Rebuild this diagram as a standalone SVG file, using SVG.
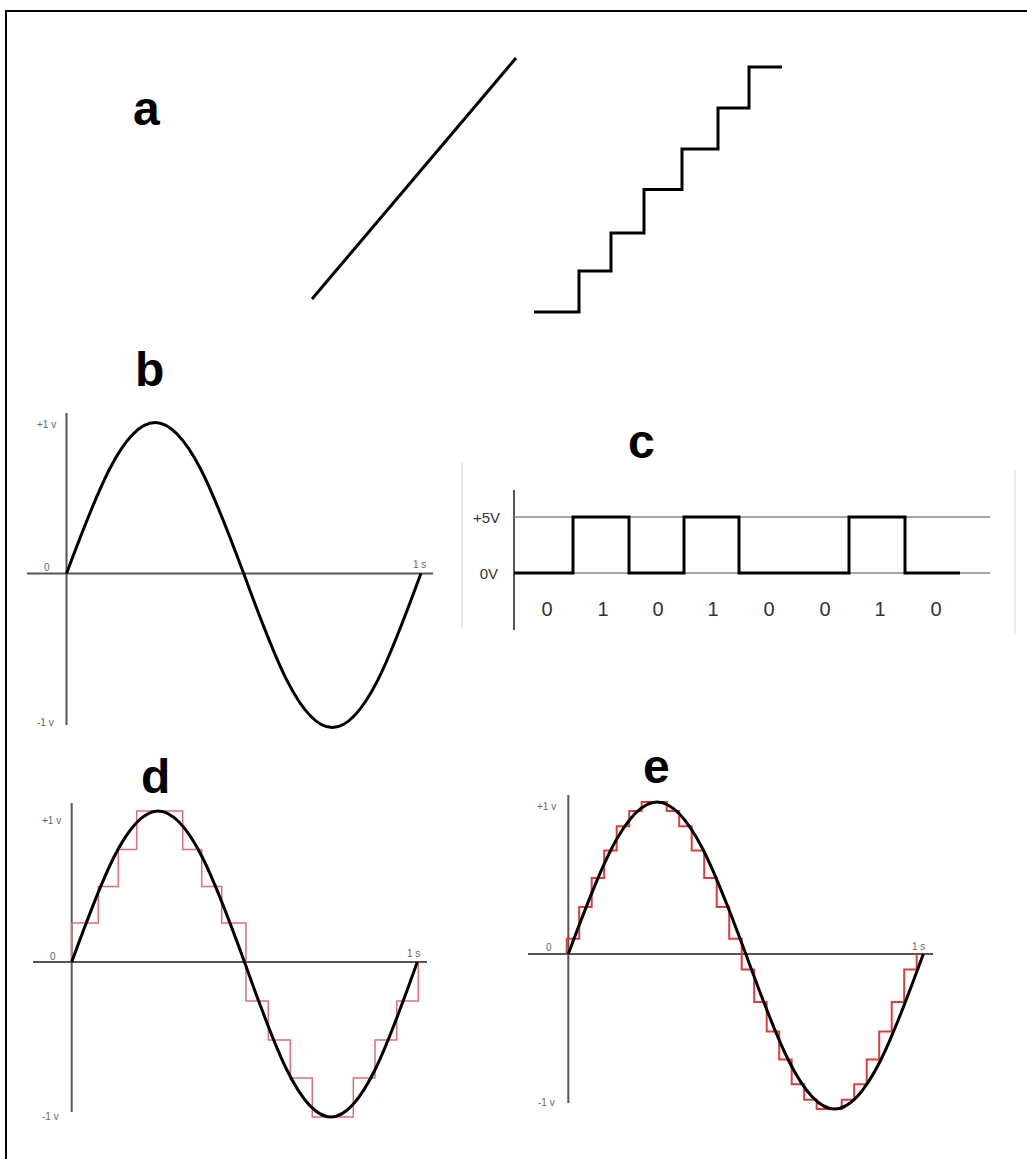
<svg xmlns="http://www.w3.org/2000/svg" width="1027" height="1159" viewBox="0 0 1027 1159">
<style>
.lbl{font-family:"Liberation Sans",Arial,sans-serif;font-weight:bold;font-size:48px;fill:#000}
.ax{stroke:#555;stroke-width:2;fill:none}
.grid{stroke:#888;stroke-width:1.5;fill:none}
.faint{stroke:#e4e4e4;stroke-width:1.5;fill:none}
.sig{stroke:#000;stroke-width:3;fill:none;stroke-linejoin:miter}
.sine{stroke:#000;stroke-width:3;fill:none}
.small{font-family:"Liberation Sans",Arial,sans-serif;font-size:10px;fill:#666}
.mid{font-family:"Liberation Sans",Arial,sans-serif;font-size:15px;fill:#333}
.dig{font-family:"Liberation Sans",Arial,sans-serif;font-size:20px;fill:#333;text-anchor:middle}
.redd{stroke:#e07070;stroke-width:1.5;fill:none}
.rede{stroke:#e03c3c;stroke-width:2;fill:none}
</style>
<rect x="0" y="0" width="1027" height="1159" fill="#fff"/>
<g id="frame">
<path d="M6,1159 V11 H1027" stroke="#000" stroke-width="2" fill="none"/>
</g>
<g id="panel-a">
<text class="lbl" x="133" y="125">a</text>
<line x1="312" y1="299" x2="516" y2="58" class="sig"/>
<path class="sig" stroke-width="4" d="M534,312 H579 V271 H611 V233 H644 V189.5 H682 V149 H718 V108 H749 V67 H782"/>
</g>
<g id="panel-b">
<text class="lbl" x="135" y="386">b</text>
<line class="ax" x1="66.5" y1="413" x2="66.5" y2="725"/>
<line class="ax" x1="27" y1="573.5" x2="433" y2="573.5"/>
<text class="small" x="37" y="428">+1 v</text>
<text class="small" x="44" y="571">0</text>
<text class="small" x="413" y="568">1 s</text>
<text class="small" x="37" y="726">-1 v</text>
<path class="sine" d="M66.5,573.5 C95.4,496.1 123,422.5 155.1,422.5 C187.2,422.5 214.8,496.1 243.7,573.5 C272.6,652.4 300.2,727.5 332.3,727.5 C364.4,727.5 392,652.4 420.9,573.5"/>
</g>
<g id="panel-c">
<text class="lbl" x="628" y="458">c</text>
<line class="faint" x1="462" y1="462" x2="462" y2="628"/>
<line class="faint" x1="1015" y1="470" x2="1015" y2="635"/>
<line class="ax" x1="514" y1="490" x2="514" y2="630"/>
<line class="grid" x1="514" y1="517" x2="990" y2="517"/>
<line class="grid" x1="514" y1="573" x2="990" y2="573"/>
<text class="mid" x="500" y="523" text-anchor="end">+5V</text>
<text class="mid" x="498" y="579" text-anchor="end">0V</text>
<path class="sig" d="M514,573 H573 V517 H629 V573 H684 V517 H739 V573 H849 V517 H905 V573 H960"/>
<text class="dig" x="547" y="616">0</text>
<text class="dig" x="603" y="616">1</text>
<text class="dig" x="658" y="616">0</text>
<text class="dig" x="713" y="616">1</text>
<text class="dig" x="769" y="616">0</text>
<text class="dig" x="825" y="616">0</text>
<text class="dig" x="880" y="616">1</text>
<text class="dig" x="936" y="616">0</text>
</g>
<g id="panel-d">
<text class="lbl" x="141" y="793">d</text>
<line class="ax" x1="71.7" y1="803" x2="71.7" y2="1112"/>
<line class="ax" x1="33" y1="962" x2="427" y2="962"/>
<text class="small" x="42" y="824">+1 v</text>
<text class="small" x="50" y="960">0</text>
<text class="small" x="407" y="957">1 s</text>
<text class="small" x="42" y="1120">-1 v</text>
<path class="redd" d="M71.7,962 V923 H98.3 V886.5 H118.3 V849.5 H136.7 V811 H182.7 V849.5 H201.7 V886.5 H221.7 V923 H246 V1001 H268.3 V1040 H290.3 V1078 H312.3 V1117 H353.3 V1078 H375 V1040 H396.7 V1001 H418.3 V962"/>
<path class="sine" d="M71.7,962 C99.9,884.6 126.8,811 158.1,811 C189.4,811 216.3,884.6 244.5,962 C272.7,1041.4 299.6,1117 330.9,1117 C362.2,1117 389.1,1041.4 417.3,962"/>
</g>
<g id="panel-e">
<text class="lbl" x="643" y="783">e</text>
<line class="ax" x1="568.3" y1="795" x2="568.3" y2="1103"/>
<line class="ax" x1="528" y1="954" x2="933" y2="954"/>
<text class="small" x="537" y="810">+1 v</text>
<text class="small" x="546" y="951">0</text>
<text class="small" x="912" y="950">1 s</text>
<text class="small" x="538" y="1106">-1 v</text>
<path class="rede" d="M566.7,954 V938.8 H579.2 V906.9 H591.7 V878 H604.2 V850.6 H616.7 V826.3 H629.2 V811.1 H641.7 V802 H666.7 V811.1 H679.2 V826.3 H691.7 V850.6 H704.2 V878 H716.7 V906.9 H729.2 V938.8 H741.7 V969.5 H754.2 V1002.1 H766.7 V1031.5 H779.2 V1059.4 H791.7 V1084.2 H804.2 V1099.7 H816.7 V1109 H841.7 V1099.7 H854.2 V1084.2 H866.7 V1059.4 H879.2 V1031.5 H891.7 V1002.1 H904.2 V969.5 H916.7 V954"/>
<path class="sine" d="M568.3,954 C597.2,876.1 624.9,802 657.1,802 C689.2,802 716.9,876.1 745.8,954 C774.7,1033.4 802.4,1109 834.6,1109 C866.7,1109 894.4,1033.4 923.3,954"/>
</g>
</svg>
